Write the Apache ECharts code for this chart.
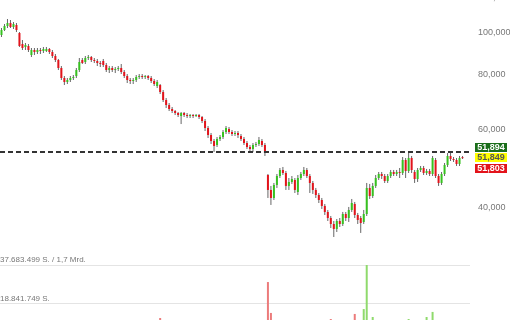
<!DOCTYPE html>
<html><head><meta charset="utf-8">
<script src="https://cdn.jsdelivr.net/npm/echarts@6/dist/echarts.min.js"></script>
<style>html,body{margin:0;padding:0;background:#fff}#c{width:510px;height:320px}</style>
</head><body><div id="c"></div>
<script>
const opens = [
98600,101200,103360,104990,102820,103900,99630,94060,92600,93080,
88790,91150,90200,91150,90680,90680,91630,90200,88330,86500,
82950,78720,77090,77900,78720,79540,82080,86500,85600,87410,
87870,86500,86050,85150,86050,84260,82080,82950,82080,82510,
82950,81230,79540,77900,77490,77900,79130,79540,79130,79540,
78720,77490,75490,75880,73150,70150,68340,66920,66220,65530,
64510,65530,64850,64510,64850,64510,64850,64180,62850,60580,
58410,56600,55430,57200,57800,59330,60260,59330,58710,59020,
58100,57200,56010,54850,54280,55430,55720,56600,55430,47370,
43800,42000,44960,47120,48630,47870,44730,45670,46150,43340,
46630,47620,48630,47120,45430,43800,42660,41560,40280,39030,
37820,36650,35710,37230,36650,38620,37820,39440,40700,38420,
37820,37040,38620,44260,42440,44730,46630,47620,47120,45910,
47120,48120,47620,48120,47870,51240,48380,51780,48120,46390,
48630,49140,47870,48380,47620,51240,47120,45430,47620,49920,
52330,51510,51240,50180,52000];
const closes = [
101200,103360,104990,102820,104440,101200,93080,92110,93570,91150,
91150,90200,91150,90680,91630,91630,90200,88330,86500,82950,
78720,77090,77900,78720,79130,82080,85600,85150,87410,87870,
86500,86050,85150,84710,84260,82080,82950,82080,82510,82950,
81230,79540,77900,77490,77900,79130,79540,79130,79540,78720,
77490,76280,77090,73150,70150,68340,66920,66220,65530,64850,
65530,64850,64510,64850,64510,64850,64180,62850,60580,58410,
56600,55140,57200,57800,59330,60580,59330,58710,59020,58410,
57200,56010,54850,54280,55430,55720,56900,55430,53160,43800,
42000,44960,47120,48630,47870,44730,45670,46390,43800,46630,
47620,48630,47120,45430,43800,42660,41560,40280,39030,37820,
36650,35710,37230,36650,38620,37820,39440,40910,38420,37430,
36840,38620,44260,42440,44730,46630,47620,47120,45910,47120,
48120,47620,48120,47870,51240,48380,51780,48630,46390,48630,
49140,47870,48380,47620,51780,47120,45430,47620,49920,52330,
51510,51240,50180,51780,51849];
const lows = [
97570,100680,102280,102280,101750,100150,92600,91150,91150,90200,
87870,88790,89260,89260,89730,90200,89260,87410,85600,82080,
77900,75880,76280,77090,77900,78720,81230,84710,84710,86500,
85600,85150,83820,83380,83380,81230,80800,81230,80800,81650,
80380,78720,76680,76280,76280,77090,78310,78310,78310,77900,
76680,75490,74700,72390,69420,67270,66220,65530,64850,64180,
61860,64180,63840,63840,63840,64180,63510,62190,59640,57500,
55720,53440,54850,56600,57200,58710,58710,58100,58100,57500,
56600,55430,54280,53440,53440,54850,55140,54850,52330,42000,
40490,41560,44260,46630,47370,43800,43800,45200,43110,42660,
46150,47120,46630,43110,42890,42000,40910,39650,38420,37230,
35890,34240,35150,36080,36270,37230,37040,39030,37820,36650,
34970,36650,38220,41780,42000,44260,46150,46390,45430,45430,
46630,47120,47120,46630,47370,46630,47870,47870,45430,45670,
48120,47370,47370,47120,47120,46630,44730,44960,47120,49400,
50970,50710,49660,49660,51510];
const highs = [
102280,104440,107210,106650,105540,104990,100150,96050,94550,94060,
92110,92110,92110,92110,92600,92600,92110,91150,89260,86960,
83820,79540,78720,79540,79960,82950,87410,87410,88330,88790,
88330,87410,86960,86050,86960,85150,83820,83820,83380,83820,
84710,82080,80380,78720,78720,79960,80380,80380,79960,79960,
79540,78310,77900,76280,73920,70890,69060,67630,66570,65880,
65880,65880,65530,65190,65190,65190,65190,64510,63510,61220,
59020,57200,57800,58410,59950,61220,60900,59950,59640,59640,
58710,57800,56600,55430,56010,56310,57800,57200,56010,47620,
44730,45430,47620,49140,49400,48380,46630,47120,46630,47370,
48120,49400,49140,47620,45910,44260,43110,42000,40700,39440,
38220,37230,37620,37820,39030,39030,40070,41780,41130,38830,
38220,39440,45430,45200,45430,47370,48120,48120,47620,47620,
48630,48630,48630,49140,52050,51780,53440,52330,48630,49140,
49660,49660,48890,48890,52330,51780,47620,48120,50440,53160,
53160,52050,51780,52330,52330];
const volumes = [
6.1e6,5.4e6,7.2e6,4.8e6,5.9e6,6.6e6,9.8e6,7.5e6,6.3e6,5.7e6,
6.8e6,5.1e6,4.6e6,5.3e6,4.9e6,5.5e6,6.0e6,7.1e6,7.9e6,8.6e6,
9.4e6,8.1e6,6.2e6,5.8e6,5.0e6,6.9e6,7.7e6,6.4e6,5.6e6,4.7e6,
5.2e6,4.9e6,5.8e6,5.3e6,6.1e6,7.0e6,5.4e6,4.8e6,4.5e6,5.1e6,
6.3e6,7.2e6,7.8e6,6.5e6,5.6e6,5.9e6,4.7e6,4.4e6,4.9e6,5.3e6,
6.2e6,7.4e6,6.8e6,11.6e6,9.9e6,8.7e6,7.3e6,6.6e6,5.8e6,5.5e6,
6.7e6,5.2e6,4.6e6,4.3e6,4.8e6,4.5e6,5.4e6,6.9e6,8.2e6,9.1e6,
8.4e6,9.6e6,7.8e6,6.1e6,6.9e6,7.3e6,5.9e6,5.2e6,4.8e6,5.6e6,
6.4e6,7.0e6,7.9e6,8.8e6,7.6e6,5.7e6,6.8e6,6.0e6,9.7e6,29.3e6,
14.1e6,9.5e6,8.6e6,7.4e6,6.3e6,8.9e6,7.1e6,6.2e6,7.8e6,8.3e6,
6.9e6,7.5e6,6.4e6,7.9e6,8.5e6,8.0e6,8.8e6,9.2e6,9.6e6,10.1e6,
11.1e6,10.3e6,9.7e6,7.6e6,8.4e6,6.9e6,8.7e6,9.3e6,13.6e6,9.0e6,
10.2e6,16.0e6,37683499,9.8e6,12.1e6,8.6e6,7.7e6,6.8e6,7.3e6,6.5e6,
7.0e6,5.9e6,6.2e6,6.7e6,9.4e6,8.1e6,11.1e6,7.6e6,8.3e6,7.9e6,
6.4e6,6.1e6,12.1e6,5.8e6,14.6e6,9.2e6,8.7e6,7.5e6,8.9e6,9.9e6,
6.6e6,5.7e6,6.3e6,7.1e6,4.9e6];
const priceTicks = [40000, 60000, 80000, 100000, 120000];
const volumeMax = 37683499;
const volumeTickLabels = ['', '18.841.749 S.', '37.683.499 S. / 1,7 Mrd.'];
const resistance = 53500;
const quoteValues = [51894, 51849, 51803];

const FONT = 'Arial, "Liberation Sans", sans-serif';
const N = opens.length;
const days = opens.map((_, i) => i + 1);
const candleData = opens.map((o, i) => [i, o, closes[i], lows[i], highs[i]]);
function fmt(v) { return String(Math.round(v)).replace(/\B(?=(\d{3})+(?!\d))/g, ','); }

function renderItem(params, api) {
  const x = api.value(0), o = api.value(1), c = api.value(2), l = api.value(3), h = api.value(4);
  const po = api.coord([x, o]), pc = api.coord([x, c]), pl = api.coord([x, l]), ph = api.coord([x, h]);
  const up = c >= o;
  const w = 2;
  const top = Math.min(po[1], pc[1]);
  const hh = Math.max(1, Math.abs(po[1] - pc[1]));
  return {
    type: 'group',
    children: [
      { type: 'line', shape: { x1: po[0], y1: pl[1], x2: po[0], y2: ph[1] }, style: { stroke: '#666', lineWidth: 1 } },
      { type: 'rect', shape: { x: po[0] - w / 2, y: top, width: w, height: hh }, style: { fill: up ? '#36c21f' : '#e3131b' } }
    ]
  };
}

const chart = echarts.init(document.getElementById('c'));
chart.setOption({
  animation: false,
  backgroundColor: '#fff',
  grid: [
    { left: 0, top: -2.5, width: 470, height: 252.4, outerBoundsMode: 'none', containLabel: false },
    { left: 0, top: 265, width: 470, height: 76.6, outerBoundsMode: 'none', containLabel: false }
  ],
  xAxis: [
    { type: 'category', gridIndex: 0, data: days, max: N + 1, show: false },
    { type: 'category', gridIndex: 1, data: days, max: N + 1, show: false }
  ],
  yAxis: [
    { type: 'log', logBase: 10, gridIndex: 0, min: 32000, max: 120000, position: 'right',
      axisLine: { show: false }, axisTick: { show: false }, splitLine: { show: false },
      axisLabel: { customValues: priceTicks, margin: 8, fontSize: 9, color: '#777', fontFamily: FONT, formatter: v => fmt(v) } },
    { type: 'value', gridIndex: 1, min: 0, max: volumeMax, interval: volumeMax / 2, position: 'left',
      axisLine: { show: false }, axisTick: { show: false },
      splitLine: { show: true, lineStyle: { color: '#e4e4e4', width: 1 } },
      axisLabel: { inside: true, margin: 0, fontSize: 8, color: '#777', fontFamily: FONT, align: 'left', verticalAlign: 'bottom', padding: [0, 0, 1, 0],
        formatter: (v, i) => volumeTickLabels[i] || '' } }
  ],
  series: [
    { type: 'custom', xAxisIndex: 0, yAxisIndex: 0, data: candleData, renderItem: renderItem, encode: { x: 0, y: [1, 2, 3, 4] } },
    { type: 'line', xAxisIndex: 0, yAxisIndex: 0, data: [],
      markLine: { symbol: 'none', silent: true, animation: false, label: { show: false },
        lineStyle: { color: '#333', width: 2, type: [5, 3] }, data: [{ yAxis: resistance }] } },
    { type: 'bar', xAxisIndex: 1, yAxisIndex: 1, data: volumes, barWidth: 2,
      itemStyle: { color: p => closes[p.dataIndex] >= opens[p.dataIndex] ? '#8fda6c' : '#ec7b7b' } }
  ]
});

const yLast = chart.convertToPixel({ yAxisIndex: 0 }, quoteValues[1]);
const tagShift = [-10, 0, 11];
const tagBg = ['#1a6e1a', '#ffff00', '#e3131b'];
const tagFg = ['#ffffff', '#555555', '#ffffff'];
chart.setOption({
  graphic: quoteValues.map((v, k) => ({
    type: 'group', x: 475, y: Math.round(yLast + tagShift[k] - 4.5),
    children: [
      { type: 'rect', shape: { x: 0, y: 0, width: 32, height: 9 }, style: { fill: tagBg[k] } },
      { type: 'text', x: 16, y: 5, style: { text: fmt(v), fill: tagFg[k], font: 'bold 9px ' + FONT,
        align: 'center', verticalAlign: 'middle', textAlign: 'center', textVerticalAlign: 'middle' } }
    ]
  }))
});
</script>
</body></html>
